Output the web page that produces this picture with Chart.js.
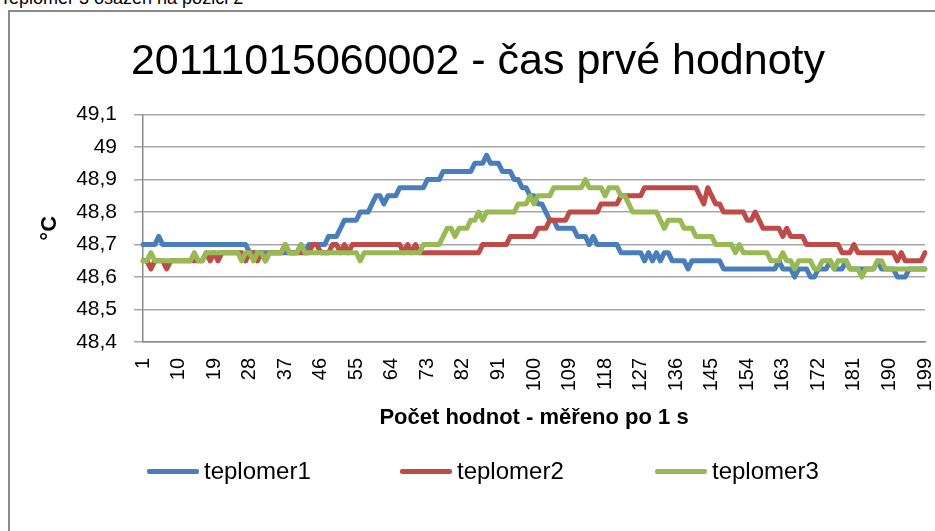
<!DOCTYPE html>
<html>
<head>
<meta charset="utf-8">
<script src="https://cdn.jsdelivr.net/npm/chart.js@4/dist/chart.umd.min.js"></script>
<style>
  body { margin: 0; width: 935px; height: 531px; overflow: hidden; background: #fff; position: relative;
         font-family: "Liberation Sans", Arial, sans-serif; }
  #caption { position: absolute; left: 0; top: -12px; font-size: 18px; line-height: 20px; white-space: nowrap; }
  #frame { position: absolute; left: 8px; top: 10px; width: 940px; height: 540px; border: 2px solid #8a8a8a; }
  #chart { position: absolute; left: 0; top: 0; }
  .item { position: absolute; top: 458px; height: 26px; line-height: 26px; font-size: 24px; white-space: nowrap; }
  .item .line { position: absolute; left: 0; top: 11px; width: 52px; height: 5px; border-radius: 2px; }
  .item .txt { position: absolute; left: 57px; top: 0; }
</style>
</head>
<body>
<div id="caption">Teplomer 3 osazen na pozici 2</div>
<div id="frame"></div>
<canvas id="chart" width="935" height="531"></canvas>
<div id="legend"></div>

<script>
// tick labels shown on the x axis (every 9th value)
const tickLabels = ["1", "10", "19", "28", "37", "46", "55", "64", "73", "82", "91", "100",
  "109", "118", "127", "136", "145", "154", "163", "172", "181", "190", "199"];

const seriesNames = ["teplomer1", "teplomer2", "teplomer3"];
const seriesColors = ["#4A7EBB", "#BE4B48", "#98B954"];

const teplomer1 = [
  48.70, 48.70, 48.70, 48.70, 48.725, 48.70, 48.70, 48.70, 48.70, 48.70,
  48.70, 48.70, 48.70, 48.70, 48.70, 48.70, 48.70, 48.70, 48.70, 48.70,
  48.70, 48.70, 48.70, 48.70, 48.70, 48.70, 48.70, 48.675, 48.675, 48.675,
  48.675, 48.675, 48.675, 48.675, 48.675, 48.675, 48.675, 48.675, 48.675, 48.675,
  48.70, 48.675, 48.70, 48.70, 48.70, 48.70, 48.70, 48.725, 48.725, 48.725,
  48.75, 48.775, 48.775, 48.775, 48.775, 48.80, 48.80, 48.80, 48.825, 48.85,
  48.85, 48.825, 48.85, 48.85, 48.85, 48.875, 48.875, 48.875, 48.875, 48.875,
  48.875, 48.875, 48.90, 48.90, 48.90, 48.90, 48.925, 48.925, 48.925, 48.925,
  48.925, 48.925, 48.925, 48.925, 48.95, 48.95, 48.95, 48.975, 48.95, 48.95,
  48.95, 48.925, 48.925, 48.925, 48.90, 48.90, 48.875, 48.875, 48.85, 48.85,
  48.825, 48.825, 48.80, 48.775, 48.775, 48.75, 48.75, 48.75, 48.75, 48.75,
  48.725, 48.725, 48.725, 48.70, 48.725, 48.70, 48.70, 48.70, 48.70, 48.70,
  48.70, 48.675, 48.675, 48.675, 48.675, 48.675, 48.675, 48.65, 48.675, 48.65,
  48.675, 48.65, 48.675, 48.675, 48.65, 48.65, 48.65, 48.65, 48.625, 48.65,
  48.65, 48.65, 48.65, 48.65, 48.65, 48.65, 48.65, 48.625, 48.625, 48.625,
  48.625, 48.625, 48.625, 48.625, 48.625, 48.625, 48.625, 48.625, 48.625, 48.625,
  48.625, 48.65, 48.625, 48.625, 48.625, 48.60, 48.625, 48.625, 48.625, 48.60,
  48.60, 48.625, 48.625, 48.625, 48.65, 48.625, 48.625, 48.625, 48.65, 48.625,
  48.625, 48.625, 48.625, 48.625, 48.625, 48.625, 48.65, 48.625, 48.625, 48.625,
  48.625, 48.60, 48.60, 48.60, 48.625, 48.625, 48.625, 48.625, 48.625
];

const teplomer2 = [
  48.65, 48.65, 48.625, 48.65, 48.65, 48.65, 48.625, 48.65, 48.65, 48.65,
  48.65, 48.65, 48.65, 48.65, 48.65, 48.65, 48.675, 48.65, 48.675, 48.65,
  48.675, 48.675, 48.675, 48.675, 48.675, 48.675, 48.65, 48.675, 48.675, 48.65,
  48.675, 48.65, 48.675, 48.675, 48.675, 48.675, 48.70, 48.675, 48.675, 48.675,
  48.675, 48.675, 48.675, 48.70, 48.70, 48.675, 48.675, 48.675, 48.70, 48.70,
  48.675, 48.70, 48.675, 48.70, 48.70, 48.70, 48.70, 48.70, 48.70, 48.70,
  48.70, 48.70, 48.70, 48.70, 48.70, 48.70, 48.675, 48.70, 48.675, 48.70,
  48.675, 48.675, 48.675, 48.675, 48.675, 48.675, 48.675, 48.675, 48.675, 48.675,
  48.675, 48.675, 48.675, 48.675, 48.675, 48.675, 48.70, 48.70, 48.70, 48.70,
  48.70, 48.70, 48.70, 48.725, 48.725, 48.725, 48.725, 48.725, 48.725, 48.725,
  48.75, 48.75, 48.75, 48.775, 48.775, 48.775, 48.775, 48.775, 48.80, 48.80,
  48.80, 48.80, 48.80, 48.80, 48.80, 48.80, 48.825, 48.825, 48.825, 48.825,
  48.825, 48.85, 48.85, 48.85, 48.85, 48.85, 48.85, 48.875, 48.875, 48.875,
  48.875, 48.875, 48.875, 48.875, 48.875, 48.875, 48.875, 48.875, 48.875, 48.875,
  48.875, 48.85, 48.825, 48.875, 48.85, 48.825, 48.825, 48.80, 48.80, 48.80,
  48.80, 48.80, 48.80, 48.775, 48.775, 48.80, 48.775, 48.75, 48.75, 48.75,
  48.75, 48.75, 48.725, 48.75, 48.725, 48.725, 48.725, 48.725, 48.70, 48.70,
  48.70, 48.70, 48.70, 48.70, 48.70, 48.70, 48.70, 48.675, 48.675, 48.675,
  48.70, 48.675, 48.675, 48.675, 48.675, 48.675, 48.675, 48.675, 48.675, 48.675,
  48.675, 48.65, 48.675, 48.65, 48.65, 48.65, 48.65, 48.65, 48.675
];

const teplomer3 = [
  48.65, 48.65, 48.675, 48.65, 48.65, 48.65, 48.65, 48.65, 48.65, 48.65,
  48.65, 48.65, 48.65, 48.675, 48.65, 48.65, 48.675, 48.675, 48.675, 48.675,
  48.675, 48.675, 48.675, 48.675, 48.675, 48.65, 48.675, 48.675, 48.65, 48.675,
  48.675, 48.65, 48.675, 48.675, 48.675, 48.675, 48.70, 48.675, 48.675, 48.675,
  48.70, 48.675, 48.675, 48.675, 48.675, 48.675, 48.675, 48.675, 48.675, 48.675,
  48.675, 48.675, 48.675, 48.675, 48.675, 48.65, 48.675, 48.675, 48.675, 48.675,
  48.675, 48.675, 48.675, 48.675, 48.675, 48.675, 48.675, 48.675, 48.675, 48.675,
  48.675, 48.70, 48.70, 48.70, 48.70, 48.70, 48.725, 48.75, 48.75, 48.725,
  48.75, 48.75, 48.75, 48.775, 48.775, 48.80, 48.775, 48.80, 48.80, 48.80,
  48.80, 48.80, 48.80, 48.80, 48.80, 48.825, 48.825, 48.825, 48.85, 48.825,
  48.85, 48.85, 48.85, 48.85, 48.875, 48.875, 48.875, 48.875, 48.875, 48.875,
  48.875, 48.875, 48.90, 48.875, 48.875, 48.875, 48.875, 48.85, 48.875, 48.875,
  48.875, 48.85, 48.85, 48.825, 48.80, 48.80, 48.80, 48.80, 48.80, 48.80,
  48.80, 48.775, 48.75, 48.775, 48.775, 48.775, 48.775, 48.75, 48.75, 48.75,
  48.725, 48.725, 48.725, 48.725, 48.725, 48.70, 48.70, 48.70, 48.70, 48.70,
  48.675, 48.70, 48.675, 48.675, 48.675, 48.675, 48.675, 48.675, 48.675, 48.65,
  48.65, 48.65, 48.675, 48.65, 48.65, 48.625, 48.65, 48.65, 48.65, 48.65,
  48.625, 48.625, 48.65, 48.65, 48.65, 48.625, 48.65, 48.65, 48.65, 48.625,
  48.625, 48.625, 48.60, 48.625, 48.625, 48.625, 48.65, 48.65, 48.625, 48.625,
  48.625, 48.625, 48.625, 48.625, 48.625, 48.625, 48.625, 48.625, 48.625
];

// categories: measurement number 1..199
const categories = [];
for (let i = 1; i <= teplomer1.length; i++) categories.push(String(i));

const font = "'Liberation Sans', Arial, sans-serif";
Chart.defaults.font.family = font;
Chart.defaults.color = '#000';

const allSeries = [teplomer1, teplomer2, teplomer3];

const chart = new Chart(document.getElementById('chart'), {
    type: 'line',
    data: {
        labels: categories,
        datasets: allSeries.map((s, i) => ({
            label: seriesNames[i],
            data: s,
            borderColor: seriesColors[i],
            backgroundColor: seriesColors[i],
            order: 2 - i   // green drawn on top like in Excel
        }))
    },
    options: {
        responsive: false,
        animation: false,
        layout: { padding: { left: 31, right: 10, top: 0, bottom: 89 } },
        elements: {
            point: { radius: 0, hoverRadius: 0 },
            line: { borderWidth: 5, tension: 0, borderJoinStyle: 'round', borderCapStyle: 'round' }
        },
        plugins: {
            legend: { display: false },
            tooltip: { enabled: false },
            title: {
                display: true,
                text: '20111015060002 - čas prvé hodnoty',
                color: '#000',
                font: { size: 43, weight: 'normal' },
                padding: { top: 36, bottom: 27 }
            }
        },
        scales: {
            x: {
                offset: false,
                grid: { display: false, drawTicks: false },
                border: { color: '#8a8a8a', width: 1.5 },
                ticks: {
                    autoSkip: false,
                    minRotation: 90,
                    maxRotation: 90,
                    padding: 16,
                    font: { size: 20 },
                    callback: function (v, i) {
                        const l = categories[i];
                        return tickLabels.includes(l) ? l : '';
                    }
                },
                title: {
                    display: true,
                    text: 'Počet hodnot - měřeno po 1 s',
                    font: { size: 22, weight: 'bold' },
                    padding: { top: 0, bottom: 11 }
                },
                afterFit: function (scale) {
                    scale.height = 100;
                    scale.paddingLeft = 0;
                    scale.paddingRight = 0;
                }
            },
            y: {
                min: 48.4,
                max: 49.1,
                ticks: {
                    stepSize: 0.1,
                    padding: 17,
                    font: { size: 21 },
                    callback: function (v) { return String(Math.round(v * 10) / 10).replace('.', ','); }
                },
                grid: { color: '#a6a6a6', lineWidth: 1.5, tickLength: 9 },
                border: { color: '#8a8a8a', width: 1.5 },
                title: {
                    display: true,
                    text: '°C',
                    font: { size: 22, weight: 'bold' },
                    padding: { top: 6, bottom: 0 }
                },
                afterFit: function (scale) { scale.width = 112; }
            }
        }
    }
});

// html legend under the chart, like the Excel one
const legendLeft = [147, 400, 655];
const legendBox = document.getElementById('legend');
seriesNames.forEach(function (name, i) {
    const item = document.createElement('div');
    item.className = 'item';
    item.style.left = legendLeft[i] + 'px';
    item.innerHTML = '<span class="line" style="background:' + seriesColors[i] + '"></span><span class="txt">' + name + '</span>';
    legendBox.appendChild(item);
});
</script>
</body>
</html>
